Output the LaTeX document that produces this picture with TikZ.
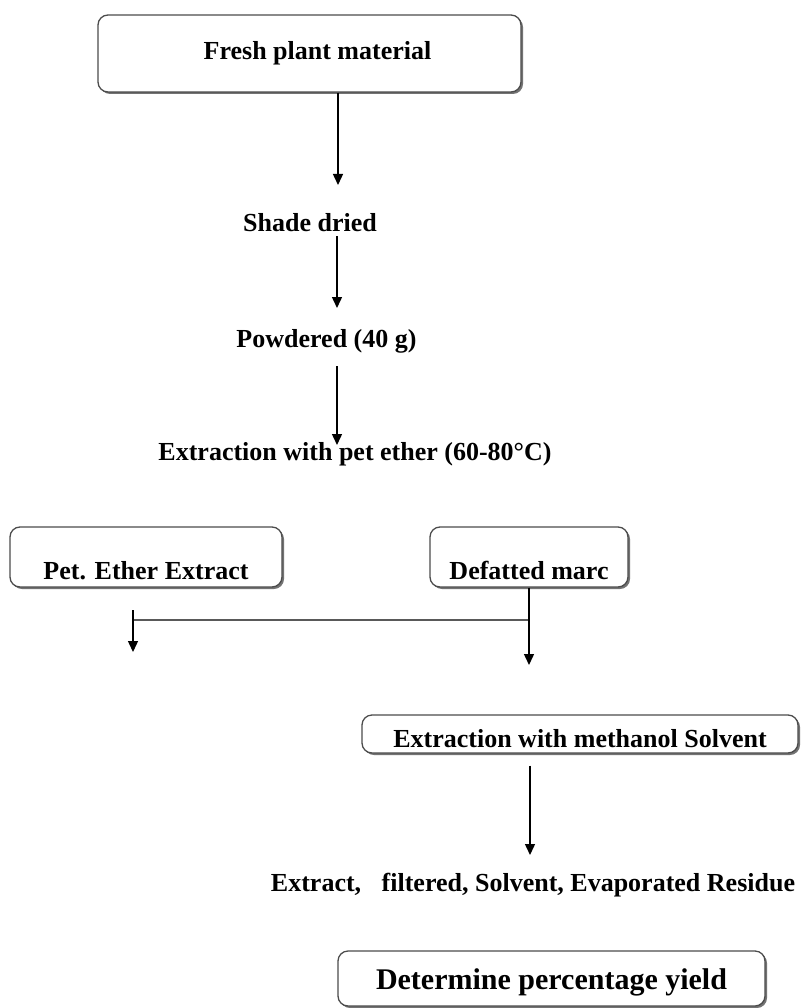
\documentclass[tikz,border=0pt]{standalone}
\usepackage{fontspec}
\setmainfont{Liberation Serif}
\usetikzlibrary{arrows.meta,shadows}
\tikzset{
  caja/.style={draw=black!70,line width=1.3pt,rounded corners=10pt,fill=white,
    drop shadow={shadow xshift=2pt,shadow yshift=-2pt,fill=black!55,opacity=1},
    inner sep=0pt,font=\Texto},
  paso/.style={inner sep=0pt,anchor=base,font=\Texto},
  flecha/.style={line width=1.4pt,-{Triangle[width=10pt,length=11pt]}},
  linea/.style={line width=1.4pt,draw=black!65}
}
\newcommand{\Texto}{\bfseries\fontsize{26}{30}\selectfont}
\newcommand{\TextoG}{\bfseries\fontsize{30}{34}\selectfont}

\begin{document}
\begin{tikzpicture}[x=1pt,y=-1pt]
    \useasboundingbox (0,0) rectangle (801,1008);

    \node[caja,minimum width=423pt,minimum height=77pt] (fresca) at (309.5,53.5)
      {\hspace*{16pt}Fresh plant material};
    \node[paso] (sombra) at (310,232) {Shade dried};
    \node[paso] (polvo) at (326.5,347) {Powdered (40 g)};
    \node[paso] (eter) at (355,460) {Extraction with pet ether (60-80°C)};

    \coordinate (f1) at (338,185);
    \coordinate (f2) at (337,308);
    \coordinate (f3a) at (337,366);
    \coordinate (f3) at (337,445);
    \draw[flecha] (fresca.south -| f1) -- (f1);
    \draw[flecha] (sombra.south -| f2) ++(0,4) -- (f2);
    \draw[flecha] (f3a) -- (f3);

    \node[caja,minimum width=272pt,text height=52pt,text depth=8pt,anchor=base]
      (extracto) at (146,579) {Pet. Ether Extract};
    \node[caja,minimum width=198pt,text height=52pt,text depth=8pt,anchor=base]
      (marc) at (529,579) {Defatted marc};

    \coordinate (union) at (529,620);
    \coordinate (izq) at (133,620);
    \coordinate (izqa) at (133,610);
    \coordinate (izqb) at (133,652);
    \coordinate (der) at (529,665);
    \draw[linea] (union) -- (izq);
    \draw[flecha] (izqa) -- (izqb);
    \draw[flecha] (marc.south) -- (der);

    \node[caja,minimum width=436pt,text height=32pt,text depth=6pt,anchor=base]
      (metanol) at (580,747) {Extraction with methanol Solvent};

    \coordinate (f4) at (530,855);
    \draw[flecha] ([yshift=-12pt]metanol.south -| f4) -- (f4);

    \node[paso] (residuo) at (533,891)
      {Extract,\hspace{14pt} filtered, Solvent, Evaporated Residue};

    \node[caja,font=\TextoG,minimum width=427pt,text height=38pt,text depth=17pt,anchor=base]
      (rendimiento) at (551.5,989) {Determine percentage yield};
  \end{tikzpicture}
\end{document}
